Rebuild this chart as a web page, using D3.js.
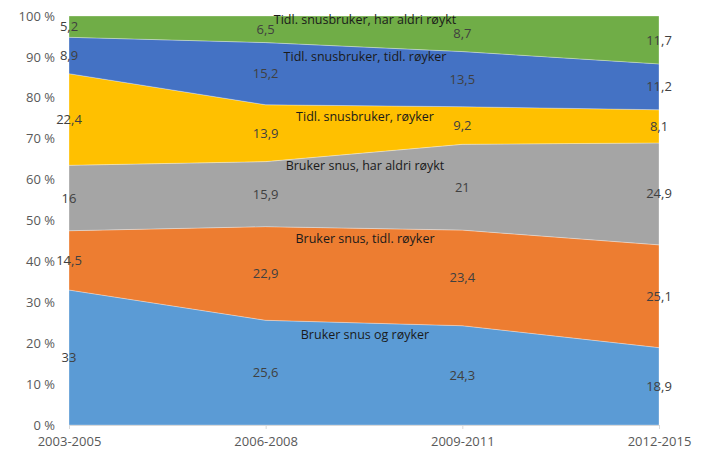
<!DOCTYPE html>
<html><head><meta charset="utf-8">
<script src="https://cdn.jsdelivr.net/npm/d3@7"></script>
<style>
body{margin:0;background:#fff;}
text{font-family:"Open Sans",sans-serif;}
</style></head>
<body><svg width="706" height="464"></svg>
<script>
const periods = ["2003-2005", "2006-2008", "2009-2011", "2012-2015"];
const seriesNames = [
  "Bruker snus og røyker",
  "Bruker snus, tidl. røyker",
  "Bruker snus, har aldri røykt",
  "Tidl. snusbruker, røyker",
  "Tidl. snusbruker, tidl. røyker",
  "Tidl. snusbruker, har aldri røykt",
];
const values = [
  [33, 25.6, 24.3, 18.9],
  [14.5, 22.9, 23.4, 25.1],
  [16, 15.9, 21, 24.9],
  [22.4, 13.9, 9.2, 8.1],
  [8.9, 15.2, 13.5, 11.2],
  [5.2, 6.5, 8.7, 11.7],
];
const colors = ["#5b9bd5", "#ed7d31", "#a5a5a5", "#ffc000", "#4472c4", "#70ad47"];
// where the series name sits, in percent on the y axis
const nameLevels = [22, 45.5, 63.5, 75.5, 90, 99];

const svg = d3.select("svg");
const x = d3.scalePoint().domain(periods).range([69, 659]);
const y = d3.scaleLinear().domain([0, 1]).range([425, 16]);

// 100% stacking
const rows = periods.map((p, i) => {
  const tot = d3.sum(values, (v) => v[i]);
  const r = { period: p };
  seriesNames.forEach((s, k) => (r[s] = values[k][i] / tot));
  return r;
});
const stacked = d3.stack().keys(seriesNames)(rows);

const area = d3.area()
  .x((d) => x(d.data.period))
  .y0((d) => y(d[0]))
  .y1((d) => y(d[1]));

svg.append("g").selectAll("path")
  .data(stacked)
  .join("path")
  .attr("d", area)
  .attr("fill", (d, i) => colors[i])
  .attr("stroke", "rgba(255,255,255,0.5)")
  .attr("stroke-width", 0.6);

// y axis labels
const yAxis = svg.append("g")
  .attr("transform", "translate(55,0)")
  .call(d3.axisLeft(y).ticks(10).tickSize(0).tickFormat((d) => Math.round(d * 100) + " %"));
yAxis.select(".domain").remove();
yAxis.selectAll("text").attr("fill", "#595959").attr("font-size", 13).attr("x", 0);

// x axis
const xAxis = svg.append("g")
  .attr("transform", "translate(0,425)")
  .call(d3.axisBottom(x).tickSize(4).tickPadding(8));
xAxis.select(".domain").attr("stroke", "#d9d9d9");
xAxis.selectAll("line").attr("stroke", "#d9d9d9");
xAxis.selectAll("text").attr("fill", "#595959").attr("font-size", 13);

// value labels
stacked.forEach((s) => {
  svg.append("g").selectAll("text")
    .data(s)
    .join("text")
    .attr("x", (d) => x(d.data.period))
    .attr("y", (d) => y((d[0] + d[1]) / 2))
    .attr("dy", "0.35em")
    .attr("text-anchor", "middle")
    .attr("font-size", 13)
    .attr("fill", "#404040")
    .text((d, i) => String(values[s.index][i]).replace(".", ","));
});

// series names
svg.append("g").selectAll("text")
  .data(seriesNames)
  .join("text")
  .attr("x", 365)
  .attr("y", (d, i) => y(nameLevels[i] / 100))
  .attr("dy", "0.35em")
  .attr("text-anchor", "middle")
  .attr("font-size", 12.5)
  .attr("fill", "#1a1a1a")
  .text((d) => d);
</script></body></html>
